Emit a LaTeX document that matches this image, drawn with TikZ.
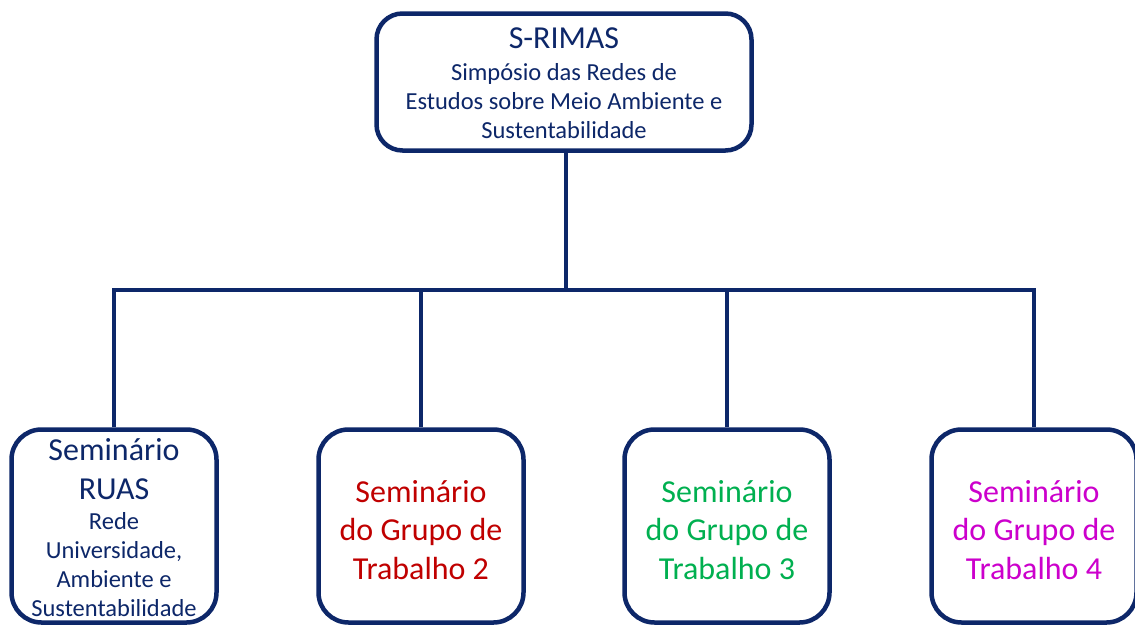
\documentclass[tikz,border=0pt]{standalone}
\usepackage{fontspec}
\setmainfont{Carlito}
\definecolor{navy}{HTML}{0D2769}
\definecolor{gtred}{HTML}{C00000}
\definecolor{gtgreen}{HTML}{00B050}
\definecolor{gtmag}{HTML}{CC00CC}
\tikzset{
  topbox/.style={draw=navy, line width=4.5pt, rounded corners=26pt, fill=white,
    minimum width=375pt, minimum height=137pt, inner sep=0pt},
  botbox/.style={draw=navy, line width=4.5pt, rounded corners=30pt, fill=white,
    minimum width=205pt, minimum height=193pt, inner sep=0pt},
  conn/.style={draw=navy, line width=4pt},
  bigtext/.style={align=center, inner sep=0pt, font=\fontsize{32}{38.5}\selectfont},
  smalltext/.style={align=center, inner sep=0pt, font=\fontsize{24.5}{29}\selectfont},
}
\begin{document}
\begin{tikzpicture}[x=1pt,y=-1pt]
\clip (0,0) rectangle (1135,627);
\fill[white] (0,0) rectangle (1135,627);
\node[topbox] (top) at (564,82) {};
\node[bigtext, text=navy] (toptitle) at (564,38) {S-RIMAS};
\node[smalltext, text=navy] (topsub) at (564,101) {Simpósio das Redes de\\ Estudos sobre Meio Ambiente e\\ Sustentabilidade};
\node[botbox] (b1) at (114,526) {};
\node[bigtext, text=navy] (b1title) at (114,469) {Seminário\\ RUAS};
\node[smalltext, text=navy] (b1sub) at (114,565) {Rede\\ Universidade,\\ Ambiente e\\ Sustentabilidade};
\node[botbox] (b2) at (421,526) {};
\node[bigtext, text=gtred] (b2t) at (421,530) {Seminário\\ do Grupo de\\ Trabalho 2};
\node[botbox] (b3) at (727,526) {};
\node[bigtext, text=gtgreen] (b3t) at (727,530) {Seminário\\ do Grupo de\\ Trabalho 3};
\node[botbox] (b4) at (1034,526) {};
\node[bigtext, text=gtmag] (b4t) at (1034,530) {Seminário\\ do Grupo de\\ Trabalho 4};
\coordinate (bus) at (566,290);
\draw[conn] (top.south -| bus) -- (bus);
\draw[conn] (b1.north) -- (b1.north |- bus) -- (b4.north |- bus) -- (b4.north);
\draw[conn] (b2.north) -- (b2.north |- bus);
\draw[conn] (b3.north) -- (b3.north |- bus);
\end{tikzpicture}
\end{document}
